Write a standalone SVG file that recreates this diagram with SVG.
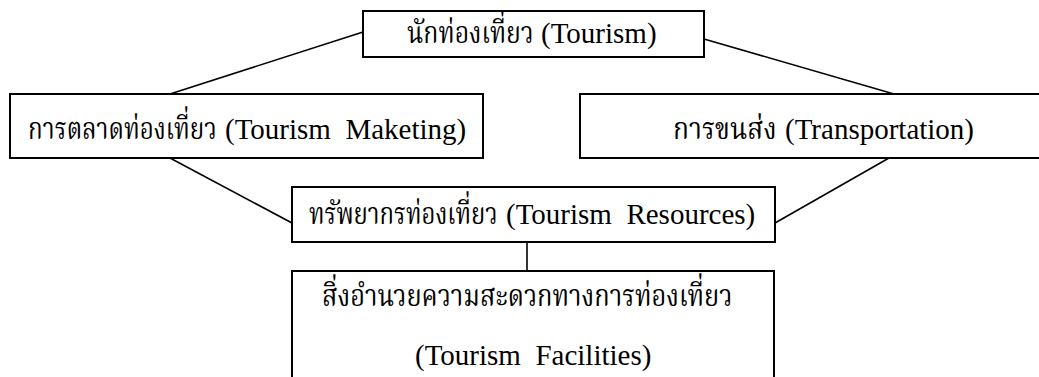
<svg xmlns="http://www.w3.org/2000/svg" width="1039" height="377" viewBox="0 0 1039 377">
  <style>
    .box { fill: #ffffff; stroke: #000000; stroke-width: 2; }
    .th { font-family: "Liberation Serif", "Norasi", "Kinnari", "Noto Serif Thai", "Noto Sans Thai", "DejaVu Serif", serif; font-size: 31px; fill: #000000; }
    .en { font-family: "Liberation Serif", "Times New Roman", serif; font-size: 29px; fill: #000000; white-space: pre; }
    .conn line { stroke: #000000; stroke-width: 1.6; }
  </style>
  <rect width="1039" height="377" fill="#ffffff"/>
  <g id="connectors" class="conn">
    <line x1="363" y1="32" x2="170" y2="94"/>
    <line x1="704" y1="39" x2="894" y2="94"/>
    <line x1="170" y1="158" x2="292" y2="223"/>
    <line x1="889" y1="158" x2="775" y2="223"/>
    <line x1="527" y1="242" x2="527" y2="271"/>
  </g>
  <g id="node-tourism">
    <rect class="box" x="363" y="11" width="341" height="46"/>
    <text class="th" transform="translate(407,43) scale(0.8,1)">นักท่องเที่ยว</text>
    <text class="en" x="541" y="43">(Tourism)</text>
  </g>
  <g id="node-marketing">
    <rect class="box" x="10" y="94" width="473" height="64"/>
    <text class="th" transform="translate(28,139) scale(0.78,1)">การตลาดท่องเที่ยว</text>
    <text class="en" x="225" y="139">(Tourism  Maketing)</text>
  </g>
  <g id="node-transport">
    <rect class="box" x="580" y="94" width="500" height="64"/>
    <text class="th" transform="translate(673,139) scale(0.85,1)">การขนส่ง</text>
    <text class="en" x="785" y="139">(Transportation)</text>
  </g>
  <g id="node-resources">
    <rect class="box" x="292" y="187" width="483" height="55"/>
    <text class="th" transform="translate(309,224) scale(0.77,1)">ทรัพยากรท่องเที่ยว</text>
    <text class="en" x="506" y="224">(Tourism  Resources)</text>
  </g>
  <g id="node-facilities">
    <rect class="box" x="292" y="271" width="482" height="110"/>
    <text class="th" transform="translate(322,306) scale(0.82,1)">สิ่งอำนวยความสะดวกทางการท่องเที่ยว</text>
    <text class="en" x="415" y="365">(Tourism  Facilities)</text>
  </g>
</svg>
